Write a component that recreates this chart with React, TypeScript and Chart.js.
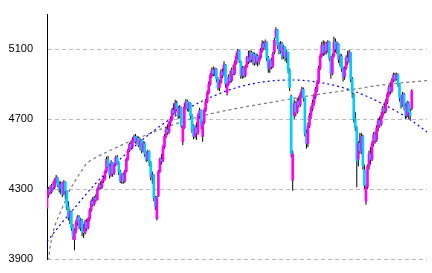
import React, { useEffect, useRef } from 'react';
import { Chart, registerables } from 'chart.js';

Chart.register(...registerables);

const opens = [
  4190, 4265, 4300, 4285, 4320, 4310, 4350, 4365, 4320, 4300, 4330, 4275, 4340, 4290, 4200, 4140, 4170, 4080, 4010, 4060,
  4110, 4140, 4080, 4120, 4060, 4050, 4110, 4080, 4130, 4180, 4230, 4215, 4250, 4240, 4300, 4320, 4310, 4345, 4360, 4400,
  4470, 4430, 4380, 4450, 4390, 4440, 4480, 4450, 4400, 4345, 4380, 4345, 4400, 4470, 4520, 4555, 4540, 4580, 4600, 4570,
  4590, 4550, 4580, 4520, 4560, 4500, 4470, 4515, 4450, 4370, 4380, 4250, 4130, 4260, 4400, 4470, 4460, 4540, 4600, 4640,
  4625, 4680, 4700, 4750, 4735, 4790, 4760, 4720, 4765, 4570, 4650, 4770, 4800, 4760, 4790, 4720, 4660, 4600, 4650, 4620,
  4720, 4750, 4600, 4680, 4750, 4800, 4850, 4900, 4950, 4980, 4960, 4985, 4930, 4880, 4910, 4970, 4950, 5010, 4850, 4900,
  4940, 4920, 4980, 4960, 5020, 5060, 5090, 5030, 4950, 4990, 4950, 5000, 5050, 5030, 5080, 5040, 5070, 5020, 5060, 5030,
  5050, 5090, 5130, 5110, 5140, 5050, 4990, 5030, 5000, 5080, 5170, 5210, 5120, 5090, 5130, 5060, 5110, 5050, 5080, 4980,
  4830, 4350, 4720, 4790, 4740, 4800, 4780, 4840, 4870, 4820, 4620, 4560, 4660, 4720, 4760, 4790, 4830, 4870, 4910, 4990,
  5060, 5120, 5080, 5130, 5090, 5140, 5050, 4960, 5060, 5140, 5100, 5130, 5040, 5060, 4990, 4940, 4990, 5050, 5030, 5080,
  4930, 4840, 4700, 4650, 4470, 4560, 4520, 4600, 4410, 4230, 4310, 4430, 4500, 4470, 4560, 4610, 4580, 4650, 4690, 4670,
  4720, 4760, 4745, 4800, 4840, 4880, 4860, 4920, 4950, 4930, 4955, 4900, 4820, 4780, 4840, 4770, 4720, 4790, 4740, 4760,
];

const highs = [
  4285, 4310, 4320, 4330, 4345, 4360, 4380, 4370, 4345, 4345, 4340, 4350, 4345, 4295, 4230, 4185, 4175, 4100, 4075, 4125,
  4150, 4150, 4135, 4130, 4100, 4125, 4130, 4140, 4190, 4240, 4255, 4260, 4270, 4310, 4335, 4345, 4355, 4375, 4410, 4485,
  4490, 4445, 4465, 4455, 4450, 4490, 4495, 4460, 4410, 4390, 4395, 4410, 4480, 4530, 4565, 4575, 4595, 4610, 4615, 4605,
  4600, 4590, 4585, 4575, 4570, 4515, 4525, 4520, 4460, 4400, 4385, 4260, 4260, 4410, 4480, 4500, 4555, 4615, 4655, 4670,
  4690, 4715, 4765, 4790, 4810, 4805, 4775, 4780, 4770, 4665, 4790, 4815, 4810, 4800, 4795, 4730, 4670, 4665, 4680, 4735,
  4765, 4755, 4690, 4765, 4815, 4865, 4915, 4965, 4995, 5000, 4995, 4990, 4940, 4925, 4985, 4990, 5030, 5015, 4910, 4955,
  4975, 4995, 5010, 5035, 5080, 5100, 5095, 5035, 5005, 5000, 5010, 5060, 5090, 5095, 5090, 5085, 5080, 5075, 5070, 5065,
  5105, 5150, 5145, 5155, 5145, 5060, 5040, 5050, 5085, 5165, 5225, 5215, 5140, 5145, 5140, 5125, 5115, 5095, 5085, 4990,
  4840, 4520, 4810, 4800, 4820, 4830, 4855, 4885, 4880, 4825, 4640, 4680, 4735, 4775, 4810, 4845, 4885, 4925, 5005, 5075,
  5140, 5150, 5145, 5140, 5150, 5145, 5060, 5075, 5170, 5160, 5145, 5135, 5075, 5070, 5000, 5000, 5065, 5090, 5095, 5085,
  4940, 4850, 4740, 4660, 4575, 4620, 4620, 4610, 4440, 4330, 4440, 4520, 4540, 4575, 4625, 4630, 4665, 4705, 4715, 4740,
  4775, 4795, 4815, 4855, 4895, 4910, 4935, 4965, 4965, 4965, 4960, 4905, 4835, 4855, 4850, 4790, 4805, 4800, 4760, 4870,
];

const lows = [
  4180, 4250, 4270, 4275, 4295, 4300, 4335, 4310, 4280, 4270, 4255, 4265, 4240, 4180, 4120, 4100, 4060, 4010, 3950, 4045,
  4090, 4070, 4060, 4030, 4020, 4040, 4060, 4070, 4115, 4170, 4200, 4205, 4225, 4235, 4290, 4300, 4300, 4335, 4350, 4395,
  4420, 4360, 4370, 4370, 4380, 4430, 4440, 4380, 4335, 4330, 4330, 4335, 4395, 4460, 4510, 4530, 4535, 4565, 4560, 4555,
  4540, 4520, 4505, 4510, 4485, 4455, 4460, 4430, 4350, 4330, 4230, 4180, 4120, 4255, 4390, 4440, 4455, 4530, 4590, 4610,
  4615, 4660, 4690, 4725, 4725, 4745, 4700, 4705, 4650, 4550, 4645, 4755, 4745, 4740, 4700, 4620, 4585, 4590, 4580, 4610,
  4700, 4640, 4570, 4670, 4740, 4790, 4840, 4890, 4935, 4945, 4945, 4910, 4865, 4860, 4900, 4935, 4945, 4880, 4835, 4890,
  4905, 4910, 4950, 4950, 5010, 5040, 5020, 4930, 4930, 4935, 4940, 4990, 5015, 5020, 5025, 5010, 5005, 5010, 5000, 5010,
  5040, 5080, 5095, 5095, 5030, 4965, 4965, 4985, 4990, 5070, 5160, 5100, 5070, 5075, 5040, 5045, 5030, 5020, 4960, 4860,
  4480, 4290, 4700, 4715, 4730, 4765, 4770, 4825, 4800, 4600, 4530, 4540, 4650, 4700, 4745, 4775, 4815, 4855, 4900, 4980,
  5050, 5060, 5065, 5070, 5080, 5030, 4930, 4950, 5050, 5080, 5070, 5020, 5000, 4970, 4915, 4925, 4980, 5010, 5020, 4910,
  4820, 4680, 4630, 4310, 4430, 4500, 4500, 4410, 4300, 4210, 4300, 4410, 4440, 4460, 4545, 4560, 4570, 4630, 4650, 4660,
  4705, 4730, 4735, 4785, 4825, 4840, 4850, 4910, 4915, 4920, 4885, 4800, 4760, 4770, 4750, 4700, 4710, 4700, 4700, 4750,
];

const closes = [
  4270, 4300, 4285, 4320, 4310, 4350, 4365, 4320, 4300, 4330, 4270, 4340, 4290, 4200, 4140, 4170, 4080, 4030, 4060, 4110,
  4140, 4080, 4120, 4060, 4050, 4110, 4080, 4130, 4180, 4230, 4215, 4250, 4240, 4300, 4320, 4310, 4345, 4360, 4400, 4470,
  4430, 4380, 4450, 4390, 4440, 4480, 4450, 4400, 4345, 4380, 4345, 4400, 4470, 4520, 4555, 4540, 4580, 4600, 4570, 4590,
  4550, 4580, 4520, 4560, 4500, 4470, 4515, 4450, 4370, 4380, 4250, 4200, 4250, 4400, 4470, 4460, 4540, 4600, 4640, 4625,
  4680, 4700, 4750, 4735, 4790, 4760, 4720, 4765, 4660, 4650, 4770, 4800, 4760, 4790, 4720, 4640, 4600, 4650, 4620, 4720,
  4750, 4660, 4680, 4750, 4800, 4850, 4900, 4950, 4980, 4960, 4985, 4930, 4880, 4910, 4970, 4950, 5010, 4900, 4900, 4940,
  4920, 4980, 4960, 5020, 5060, 5090, 5030, 4950, 4990, 4950, 5000, 5050, 5030, 5080, 5040, 5070, 5020, 5060, 5030, 5050,
  5090, 5130, 5110, 5140, 5050, 4990, 5030, 5000, 5070, 5150, 5210, 5120, 5090, 5130, 5060, 5110, 5050, 5080, 4980, 4880,
  4500, 4500, 4790, 4740, 4800, 4780, 4840, 4870, 4820, 4620, 4560, 4660, 4720, 4760, 4790, 4830, 4870, 4910, 4990, 5060,
  5120, 5080, 5130, 5090, 5140, 5050, 4960, 5060, 5140, 5100, 5130, 5040, 5060, 4990, 4940, 4990, 5050, 5030, 5080, 4930,
  4850, 4700, 4650, 4460, 4560, 4520, 4600, 4430, 4320, 4310, 4430, 4500, 4470, 4560, 4610, 4580, 4650, 4690, 4670, 4720,
  4760, 4745, 4800, 4840, 4880, 4860, 4920, 4950, 4930, 4955, 4900, 4820, 4780, 4840, 4770, 4720, 4790, 4740, 4720, 4860,
];

// trend curves at a few slot positions
const blueIndex = [0, 10, 20, 30, 40, 50, 60, 70, 80, 90, 100, 110, 120, 130, 140, 150, 160, 170, 180, 190, 200, 210, 220, 230, 240, 249];
const blueTrend = [3999, 4110, 4212, 4314, 4405, 4487, 4563, 4633, 4695, 4749, 4795, 4834, 4868, 4892, 4910, 4920, 4923, 4919, 4907, 4888, 4862, 4828, 4786, 4739, 4684, 4626];

const grayIndex = [1, 2, 4, 6, 9, 12, 15, 18, 22, 26, 32, 39, 52, 65, 82, 104, 126, 148, 175, 198, 219, 249];
const grayTrend = [3890, 3965, 4052, 4110, 4172, 4232, 4295, 4340, 4395, 4445, 4480, 4510, 4563, 4609, 4666, 4723, 4763, 4797, 4837, 4866, 4894, 4920];

const SLOT_COUNT = 250;
const categories = Array.from({ length: SLOT_COUNT }, (_, i) => `D${i + 1}`);
const yTickValues = [3900, 4300, 4700, 5100];

export default function App() {
  const ref = useRef<HTMLCanvasElement>(null);

  useEffect(() => {
    if (!ref.current) return;
    const wicks = lows.map((l, i) => [l, highs[i]]);
    const bodies = opens.map((o, i) => [Math.min(o, closes[i]), Math.max(o, closes[i])]);
    const bodyColors = opens.map((o, i) => (closes[i] >= o ? '#ff00ff' : '#00ccff'));
    const sparse = (idx: number[], vals: number[]) => {
      const arr: (number | null)[] = new Array(SLOT_COUNT).fill(null);
      idx.forEach((k, j) => { arr[k] = vals[j]; });
      return arr;
    };

    const chart = new Chart(ref.current, {
      type: 'bar',
      data: {
        labels: categories,
        datasets: [
          { type: 'bar', data: bodies as any, backgroundColor: bodyColors, barThickness: 2, grouped: false, order: 0 } as any,
          { type: 'bar', data: wicks as any, backgroundColor: '#000000', barThickness: 1, grouped: false, inflateAmount: 0, order: 1 } as any,
          {
            type: 'line', data: sparse(blueIndex, blueTrend), borderColor: '#0000ee', borderWidth: 1.2, borderDash: [2, 3],
            pointRadius: 0, spanGaps: true, cubicInterpolationMode: 'monotone', order: 2,
          } as any,
          {
            type: 'line', data: sparse(grayIndex, grayTrend), borderColor: '#777777', borderWidth: 1.2, borderDash: [3, 3],
            pointRadius: 0, spanGaps: true, cubicInterpolationMode: 'monotone', order: 3,
          } as any,
        ],
      },
      options: {
        animation: false,
        responsive: false,
        layout: { padding: { left: 0, right: 5, top: 14, bottom: 14 } },
        plugins: { legend: { display: false }, tooltip: { enabled: false } },
        scales: {
          x: { display: false, offset: false, grid: { display: false } },
          y: {
            min: 3900,
            max: 5300,
            afterBuildTicks: (s: any) => { s.ticks = yTickValues.map((v) => ({ value: v })); },
            afterFit: (s: any) => { s.width = 47; s.paddingTop = 0; s.paddingBottom = 0; },
            ticks: {
              padding: 14, color: '#000000', font: { family: 'Liberation Sans', size: 11 },
              callback: (v: any) => String(v),
            },
            grid: { color: '#bbbbbb', drawTicks: false, lineWidth: 1 },
            border: { display: true, color: '#000000', width: 1, dash: [4, 3] },
          },
        },
      } as any,
    });
    return () => chart.destroy();
  }, []);

  return (
    <div style={{ position: 'fixed', left: 0, top: 0, width: 432, height: 273, background: '#fff' }}>
      <canvas ref={ref} width={432} height={273} style={{ display: 'block' }} />
    </div>
  );
}
